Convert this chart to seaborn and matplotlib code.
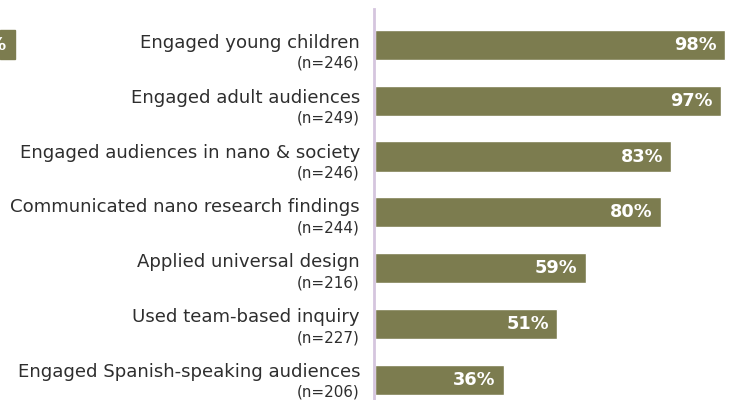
import matplotlib
matplotlib.use("Agg")
import matplotlib.pyplot as plt
from matplotlib.patches import Rectangle
import seaborn as sns
import pandas as pd

# ==========================================
#             DATA
# ==========================================

activities = [
    "Engaged young children",
    "Engaged adult audiences",
    "Engaged audiences in nano & society",
    "Communicated nano research findings",
    "Applied universal design",
    "Used team-based inquiry",
    "Engaged Spanish-speaking audiences",
]
sample_sizes = [246, 249, 246, 244, 216, 227, 206]
percents = [98, 97, 83, 80, 59, 51, 36]

BAR_COLOR = "#7c7c4f"
TEXT_COLOR = "#2e2e2e"
AXIS_COLOR = "#d5c5de"

W, H = 735, 400

sns.set_style("white")
plt.rcParams["font.family"] = ["DejaVu Sans"]

df = pd.DataFrame({"activity": activities, "pct": percents, "n": sample_sizes})

fig = plt.figure(figsize=(W / 100, H / 100), dpi=100)
ax = fig.add_axes([375 / W, 0.0, 360 / W, 1.0])

sns.barplot(data=df, x="pct", y="activity", orient="h", color=BAR_COLOR,
            width=0.54, saturation=1, ax=ax)

# 55.75 px per row, first bar centred 45 px from the top
ax.set_xlim(0, 100.8)
ax.set_ylim(6.365, -0.807)
ax.set_xlabel("")
ax.set_ylabel("")
ax.set_xticks([])
ax.set_yticks([])
for side in ["top", "right", "bottom"]:
    ax.spines[side].set_visible(False)
ax.spines["left"].set_color(AXIS_COLOR)
ax.spines["left"].set_linewidth(2)
ax.spines["left"].set_position(("outward", 1))
ax.spines["left"].set_bounds(-0.645, 6.365)

# category labels (own spacing, slightly tighter than the bars)
for i, (name, n) in enumerate(zip(activities, sample_sizes)):
    base = 48 + 54.83 * i
    fig.text(360 / W, 1 - base / H, name, ha="right", va="baseline",
             fontsize=13.1, color=TEXT_COLOR)
    fig.text(360 / W, 1 - (base + 20) / H, f"(n={n})", ha="right",
             va="baseline", fontsize=10.9, color=TEXT_COLOR)

for i, p in enumerate(percents):
    ax.annotate(f"{p}%", xy=(p, i), xycoords="data",
                xytext=(-6, 0), textcoords="offset points",
                ha="right", va="center", fontsize=12.8, fontweight="bold",
                color="white")

# clipped piece of a neighbouring bar at the far left edge
fig.patches.append(Rectangle((0, 1 - 59 / H), 15 / W, 29 / H,
                             transform=fig.transFigure, color=BAR_COLOR))
fig.text(7 / W, 1 - 45 / H, "8%", ha="right", va="center",
         fontsize=12.8, fontweight="bold", color="white")

fig.savefig("out.png", dpi=100)
plt.close(fig)
